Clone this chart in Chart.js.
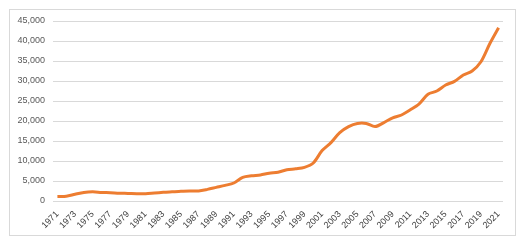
<!DOCTYPE html>
<html><head><meta charset="utf-8">
<script src="https://cdn.jsdelivr.net/npm/chart.js@4/dist/chart.umd.min.js"></script>
<style>
html,body{margin:0;padding:0;background:#fff;}
#wrap{position:relative;width:525px;height:244px;}
#frame{position:absolute;left:9px;top:9px;width:507px;height:227px;border:1px solid #d9d9d9;box-sizing:border-box;}
canvas{position:absolute;left:0;top:0;}
</style></head>
<body><div id="wrap"><div id="frame"></div><canvas id="c" width="525" height="244"></canvas></div>
<script>
const years = [];
for (let y = 1971; y <= 2021; y++) years.push(String(y));
const values = [1150,1200,1700,2150,2300,2150,2080,1950,1900,1830,1830,2000,2160,2320,2410,2490,2500,2900,3400,3900,4500,5900,6300,6500,6950,7200,7800,8050,8400,9500,12600,14600,17100,18600,19400,19400,18600,19600,20800,21500,22800,24300,26700,27500,29000,29900,31500,32500,34800,39300,43300];
const yTicks = [0,5000,10000,15000,20000,25000,30000,35000,40000,45000];

new Chart(document.getElementById('c'), {
  type: 'line',
  data: { labels: years, datasets: [{ data: values, borderColor: '#ED7D31', borderWidth: 3, pointRadius: 0, tension: 0.3, fill: false }] },
  options: {
    responsive: false, animation: false,
    layout: { padding: { left: 10, right: 22, top: 21, bottom: 0 } },
    plugins: { legend: { display: false }, tooltip: { enabled: false } },
    scales: {
      x: {
        offset: true,
        grid: { display: false },
        border: { display: false },
        ticks: { autoSkip: false, maxRotation: 45, minRotation: 45, color: '#404040', font: { family: 'Liberation Sans', size: 9 }, padding: 0,
          callback: function(v, i) { return i % 2 === 0 ? years[i] : ''; } },
        afterFit: function(s) { s.height = 43; }
      },
      y: {
        min: 0, max: 45000,
        afterBuildTicks: function(s) { s.ticks = yTicks.map(v => ({ value: v })); },
        grid: { color: '#d9d9d9', lineWidth: 1, drawTicks: false },
        border: { display: false },
        ticks: { color: '#595959', font: { family: 'Liberation Sans', size: 9 }, padding: 8,
          callback: v => v.toLocaleString('en-US') },
        afterFit: function(s) { s.width = 43; }
      }
    }
  }
});
</script></body></html>
